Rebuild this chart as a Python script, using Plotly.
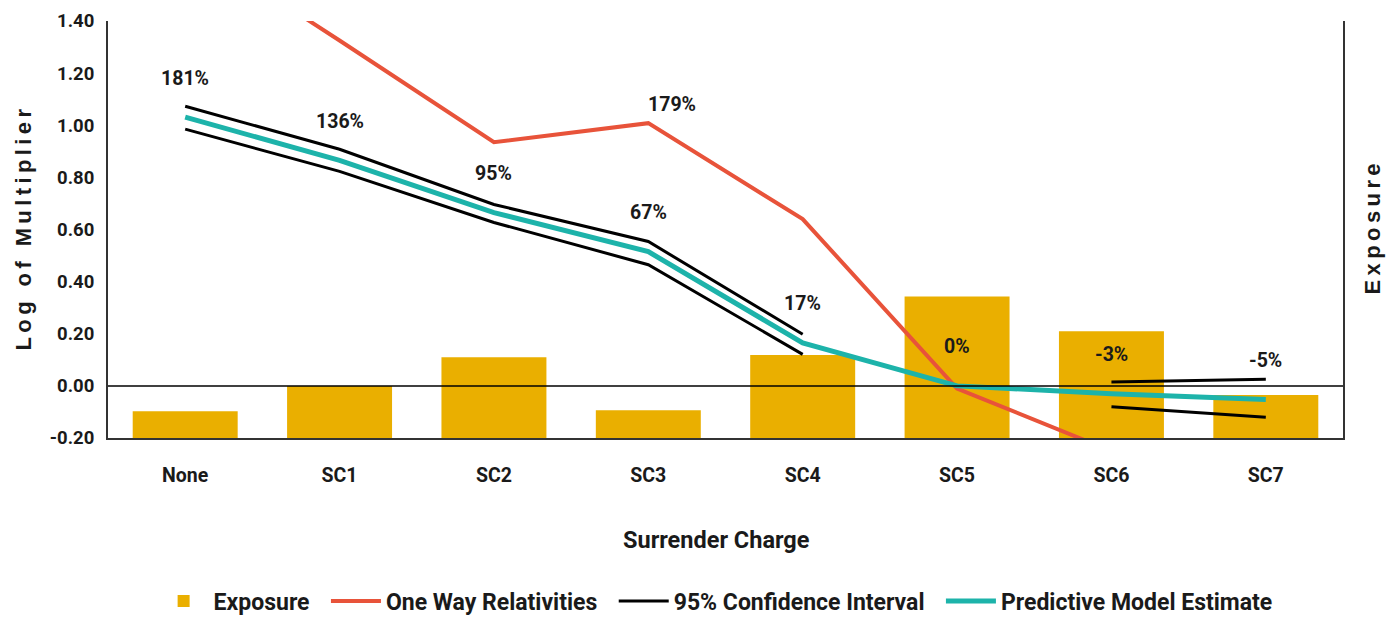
import plotly.graph_objects as go

categories = ["None", "SC1", "SC2", "SC3", "SC4", "SC5", "SC6", "SC7"]

# Exposure (right axis, arbitrary units, axis starts at 0)
exposure = [0.103, 0.20, 0.31, 0.106, 0.318, 0.543, 0.41, 0.165]

# Log of multiplier series (left axis)
one_way = [1.71, 1.325, 0.935, 1.008, 0.64, -0.01, -0.25, -0.45]
estimate = [1.031, 0.865, 0.665, 0.515, 0.165, 0.00, -0.03, -0.052]
ci_upper = [1.073, 0.908, 0.696, 0.554, 0.198, None, 0.015, 0.025]
ci_lower = [0.985, 0.823, 0.627, 0.465, 0.121, None, -0.08, -0.12]

estimate_labels = ["181%", "136%", "95%", "67%", "17%", "0%", "-3%", "-5%"]
one_way_label_cat = "SC3"
one_way_label_val = 1.008
one_way_label = "179%"

y_tickvals = [-0.2, 0.0, 0.2, 0.4, 0.6, 0.8, 1.0, 1.2, 1.4]
y_ticktext = ["-0.20", "0.00", "0.20", "0.40", "0.60", "0.80", "1.00", "1.20", "1.40"]

NARROW = "Roboto, Liberation Sans Narrow, Arial Narrow, sans-serif"
WIDE = "Liberation Sans, Arial, sans-serif"
TXT = "#1a1a1a"
GOLD = "#EAAF00"
RED = "#E8533A"
TEAL = "#1DB3AA"
PAD = "\u00a0\u00a0"

fig = go.Figure()

fig.add_trace(go.Bar(
    x=categories, y=exposure, name="Exposure" + PAD, marker_color=GOLD,
    marker_line_width=0, yaxis="y",
))
fig.add_trace(go.Scatter(
    x=categories, y=one_way, name="One Way Relativities" + PAD, mode="lines",
    line=dict(color=RED, width=4), yaxis="y2",
))
fig.add_trace(go.Scatter(
    x=categories, y=ci_upper, name="95% Confidence Interval" + PAD, mode="lines",
    line=dict(color="black", width=3), yaxis="y2", legendgroup="ci",
))
fig.add_trace(go.Scatter(
    x=categories, y=ci_lower, name="95% Confidence Interval", mode="lines",
    line=dict(color="black", width=3), yaxis="y2", legendgroup="ci",
    showlegend=False,
))
fig.add_trace(go.Scatter(
    x=categories, y=estimate, name="Predictive Model Estimate", mode="lines",
    line=dict(color=TEAL, width=5), yaxis="y2",
))

annotations = []
for c, v, t in zip(categories, estimate, estimate_labels):
    annotations.append(dict(
        x=c, y=v, xref="x", yref="y2", text=t, showarrow=False,
        yshift=39, xanchor="center", yanchor="middle",
        font=dict(family=NARROW, size=19.5, color=TXT, weight="bold"),
    ))
annotations.append(dict(
    x=one_way_label_cat, y=one_way_label_val, xref="x", yref="y2",
    text=one_way_label, showarrow=False, xshift=24, yshift=19,
    xanchor="center", yanchor="middle",
    font=dict(family=NARROW, size=19.5, color=TXT, weight="bold"),
))

def spaced(s):
    return "\u2009".join(s).replace("\u2009 \u2009", "\u2009\u00a0\u2009")

annotations.append(dict(
    x=0, y=0.5, xref="paper", yref="paper", text=spaced("Log of Multiplier"),
    textangle=-90, showarrow=False, xshift=-85, xanchor="center", yanchor="middle",
    font=dict(family=WIDE, size=22, color=TXT, weight="bold"),
))
annotations.append(dict(
    x=1, y=0.5, xref="paper", yref="paper", text=spaced("Exposure"),
    textangle=-90, showarrow=False, xshift=29, xanchor="center", yanchor="middle",
    font=dict(family=WIDE, size=22, color=TXT, weight="bold"),
))
annotations.append(dict(
    x=0.5, y=0, xref="paper", yref="paper", text="Surrender Charge",
    showarrow=False, xshift=-9, yshift=-102, xanchor="center", yanchor="middle",
    font=dict(family=NARROW, size=23.5, color=TXT, weight="bold"),
))

fig.update_layout(
    width=1387, height=617,
    margin=dict(l=108, r=44, t=21, b=179, autoexpand=False),
    paper_bgcolor="white", plot_bgcolor="white",
    bargap=0.32,
    showlegend=True,
    legend=dict(
        orientation="h", x=0.492, y=-0.391, xanchor="center", yanchor="middle",
        font=dict(family=NARROW, size=23, color=TXT, weight="bold"),
        itemwidth=50, traceorder="normal",
    ),
    xaxis=dict(
        type="category", range=[-0.5, 7.5], showgrid=False,
        showline=True, linecolor="#333", linewidth=2,
        ticks="outside", ticklen=19, tickcolor="rgba(0,0,0,0)",
        tickfont=dict(family=NARROW, size=19.5, color=TXT, weight="bold"),
    ),
    yaxis=dict(
        side="right", range=[0, 1.6], showgrid=False, zeroline=False,
        showticklabels=False, ticks="", showline=True, linecolor="#333", linewidth=2,
    ),
    yaxis2=dict(
        overlaying="y", side="left", range=[-0.2, 1.4], showgrid=False,
        zeroline=False, tickvals=y_tickvals, ticktext=y_ticktext,
        showline=True, linecolor="#333", linewidth=2,
        ticks="outside", ticklen=8, tickcolor="rgba(0,0,0,0)",
        tickfont=dict(family=NARROW, size=18.5, color=TXT, weight="bold"),
    ),
    annotations=annotations,
    shapes=[dict(
        type="line", xref="paper", x0=0, x1=1, yref="y2", y0=0, y1=0,
        line=dict(color="black", width=1.5), layer="above",
    )],
)

fig.write_html(
    "out.html",
    config={"displayModeBar": False},
    post_script="document.body.style.margin='0';document.body.style.overflow='hidden';",
)
